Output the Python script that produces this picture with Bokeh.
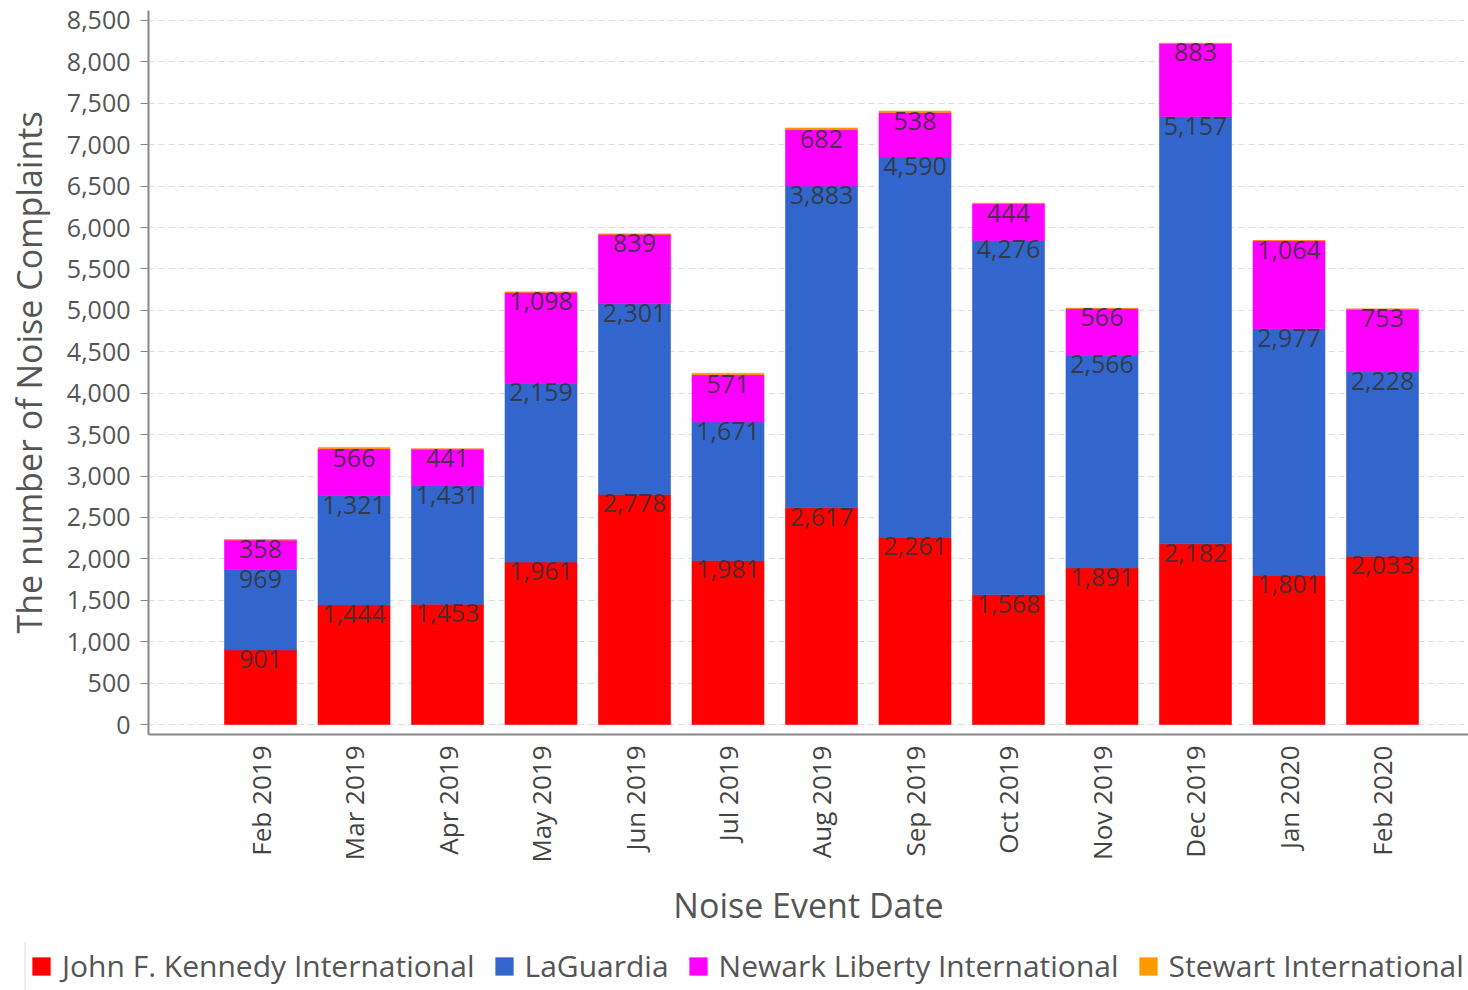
import numpy as np
from bokeh.plotting import figure
from bokeh.layouts import column
from bokeh.models import (ColumnDataSource, FixedTicker, NumeralTickFormatter,
                          Legend, LegendItem, Range1d)
from bokeh.core.properties import value
from bokeh.embed import file_html
from bokeh.resources import INLINE

months = ["Feb 2019", "Mar 2019", "Apr 2019", "May 2019", "Jun 2019", "Jul 2019",
          "Aug 2019", "Sep 2019", "Oct 2019", "Nov 2019", "Dec 2019", "Jan 2020", "Feb 2020"]
jfk = [901, 1444, 1453, 1961, 2778, 1981, 2617, 2261, 1568, 1891, 2182, 1801, 2033]
lga = [969, 1321, 1431, 2159, 2301, 1671, 3883, 4590, 4276, 2566, 5157, 2977, 2228]
ewr = [358, 566, 441, 1098, 839, 571, 682, 538, 444, 566, 883, 1064, 753]
swf = [3, 15, 2, 3, 4, 18, 20, 17, 6, 2, 3, 2, 2]

series_names = ["John F. Kennedy International", "LaGuardia",
                "Newark Liberty International", "Stewart International"]
colors = ["#ff0000", "#3366cc", "#ff00ff", "#ff9900"]

FONT = "Open Sans"
x = np.arange(len(months))
data = np.array([jfk, lga, ewr, swf], dtype=float)
bottoms = np.vstack([np.zeros(len(months)), np.cumsum(data, axis=0)[:-1]])
tops = bottoms + data

p = figure(width=1468, height=942, output_backend="svg", toolbar_location=None,
           x_range=Range1d(-1.198, 12.92), y_range=Range1d(-120, 8620))
p.min_border_left = 148
p.min_border_top = 10
p.min_border_right = 0
p.min_border_bottom = 208
p.outline_line_color = None
p.background_fill_color = "white"
p.frame_align = False

for i in range(4):
    src = ColumnDataSource(dict(x=x, bottom=bottoms[i], top=tops[i]))
    p.vbar(x="x", width=0.77, bottom="bottom", top="top", source=src,
           fill_color=colors[i], line_color=colors[i], line_width=0.6)

# data labels for first three series
for i in range(3):
    lsrc = ColumnDataSource(dict(x=x, y=tops[i], t=[f"{int(v):,}" for v in data[i]]))
    p.text(x="x", y="y", text="t", source=lsrc, text_align="center",
           text_baseline="top", y_offset=0, text_font=value(FONT),
           text_font_size="25px", text_color="#333333", text_alpha=0.85)

# axes
p.xaxis.ticker = FixedTicker(ticks=list(x))
p.xaxis.major_label_overrides = {int(i): m for i, m in enumerate(months)}
p.xaxis.major_label_orientation = np.pi / 2
p.xaxis.major_label_text_font = FONT
p.xaxis.major_label_text_font_size = "26px"
p.xaxis.major_label_text_color = "#444444"
p.xaxis.major_tick_line_color = None
p.xaxis.minor_tick_line_color = None
p.xaxis.axis_line_color = "#888888"
p.xaxis.axis_line_width = 2
p.xaxis.axis_label = "Noise Event Date"
p.xaxis.axis_label_text_font = FONT
p.xaxis.axis_label_text_font_style = "normal"
p.xaxis.axis_label_text_font_size = "34px"
p.xaxis.axis_label_text_color = "#555555"
p.xaxis.axis_label_standoff = 16
p.xaxis.major_label_standoff = 5

p.yaxis.ticker = FixedTicker(ticks=list(range(0, 8501, 500)))
p.yaxis.formatter = NumeralTickFormatter(format="0,0")
p.yaxis.major_label_text_font = FONT
p.yaxis.major_label_text_font_size = "25px"
p.yaxis.major_label_text_color = "#555555"
p.yaxis.major_tick_line_color = "#888888"
p.yaxis.major_tick_in = 0
p.yaxis.major_tick_out = 8
p.yaxis.minor_tick_line_color = None
p.yaxis.axis_line_color = "#888888"
p.yaxis.axis_line_width = 2
p.yaxis.axis_label = "The number of Noise Complaints"
p.yaxis.axis_label_text_font = FONT
p.yaxis.axis_label_text_font_style = "normal"
p.yaxis.axis_label_text_font_size = "34px"
p.yaxis.axis_label_text_color = "#555555"
p.yaxis.major_label_standoff = 10
p.yaxis.axis_label_standoff = 12

p.xgrid.grid_line_color = None
p.ygrid.grid_line_color = "#dddddd"
p.ygrid.grid_line_dash = "6 4"
p.ygrid.ticker = FixedTicker(ticks=list(range(0, 8501, 500)))

# legend strip: a second figure whose frame spans the full width;
# its ranges keep the (same) bars off-canvas so only the legend shows
lf = figure(width=1468, height=48, output_backend="svg", toolbar_location=None,
            x_axis_type=None, y_axis_type=None,
            x_range=Range1d(20, 30), y_range=Range1d(9000, 9100))
lf.min_border_left = 0
lf.min_border_right = 0
lf.min_border_top = 0
lf.min_border_bottom = 0
lf.outline_line_color = None
lf.xgrid.visible = False
lf.ygrid.visible = False
lf.frame_align = False
leg_renderers = []
for i in range(4):
    src = ColumnDataSource(dict(x=x, bottom=bottoms[i], top=tops[i]))
    r = lf.vbar(x="x", width=0.77, bottom="bottom", top="top", source=src,
                fill_color=colors[i], line_color=colors[i], line_width=0.6)
    leg_renderers.append(r)

legend = Legend(items=[LegendItem(label=series_names[i], renderers=[leg_renderers[i]])
                       for i in range(4)],
                orientation="horizontal", location=(24, -2),
                label_text_font=FONT, label_text_font_size="30px",
                label_text_color="#555555", glyph_width=22, glyph_height=22,
                spacing=18, label_standoff=10, padding=4, margin=0,
                border_line_color="#dddddd", border_line_width=2,
                background_fill_alpha=1)
lf.add_layout(legend, "center")

layout = column(p, lf, spacing=0)
open("out.html", "w").write(file_html(layout, INLINE))
